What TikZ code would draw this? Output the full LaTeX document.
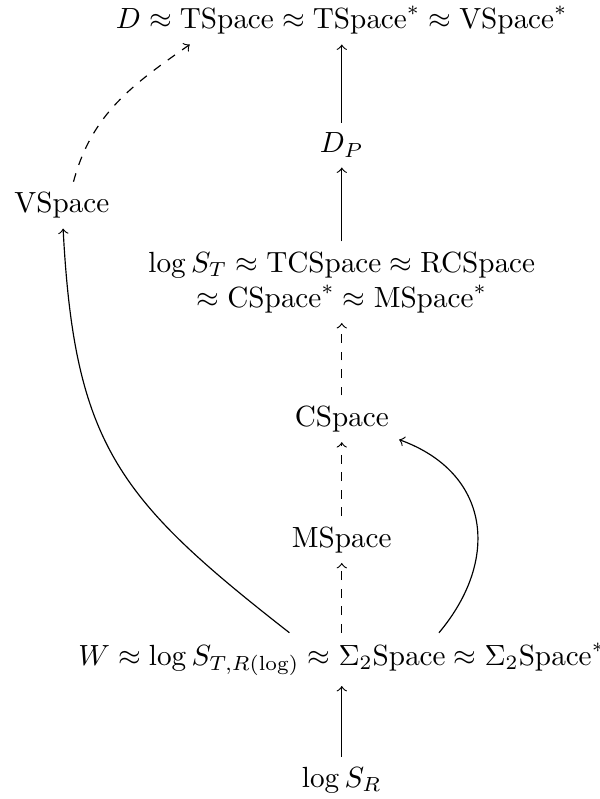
\documentclass[tikz,border=0pt]{standalone}
\usepackage{amsmath}
\usetikzlibrary{positioning}

\begin{document}
\begin{tikzpicture}[node distance=0.87cm, imp/.style={->}, weakimp/.style={->, dashed}]
	\useasboundingbox (-4.115,-0.23) rectangle (3.105,9.39);
	\node (logSR) {$\log S_R$};
	\node[above=0.85cm of logSR] (W) {$W \approx \log S_{T,R(\log)} \approx \Sigma_2\mathrm{Space} \approx \Sigma_2\mathrm{Space}^*$};
	\node[above=0.84cm of W] (MSpace) {MSpace};
	\node[above=0.89cm of MSpace] (CSpace) {CSpace};
	\node[above=of CSpace, align=center] (logST) {$\log S_T \approx \mathrm{TCSpace} \approx \mathrm{RCSpace}$\\$\approx \mathrm{CSpace}^* \approx \mathrm{MSpace}^*$};
	\node[above=0.89cm of logST] (DP) {$D_P$};
	\node[above=0.94cm of DP] (D) {$D \approx \mathrm{TSpace} \approx \mathrm{TSpace}^* \approx \mathrm{VSpace}^*$};
	\node (VSpace) at (-3.37,6.92) {VSpace};

	\draw[imp] (logSR) -- (W);
	\draw[weakimp] (W) -- (MSpace);
	\draw[weakimp] (MSpace) -- (CSpace);
	\draw[weakimp] (CSpace) -- (logST);
	\draw[imp] (logST) -- (DP);
	\draw[imp] (DP) -- (D);
	\draw[imp] ([xshift=-6.3mm]W.north) to[out=142, in=-87, looseness=1.2] (VSpace);
	\draw[imp] ([xshift=11.7mm]W.north) to[out=50, in=-20, looseness=1.25] (CSpace);
	\draw[weakimp] ([xshift=1.4mm]VSpace.north) to[out=75, in=-145] ([xshift=-18.3mm]D.south);
\end{tikzpicture}
\end{document}
